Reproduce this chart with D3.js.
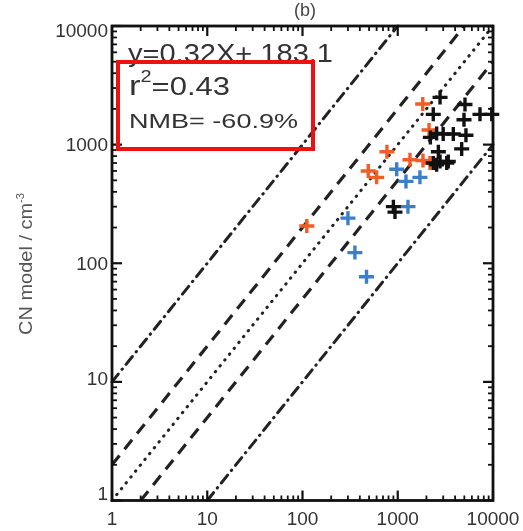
<!DOCTYPE html>
<html>
<head>
<meta charset="utf-8">
<script src="https://cdn.jsdelivr.net/npm/d3@7"></script>
<style>
  html, body { margin: 0; padding: 0; background: #fff; }
  svg { display: block; filter: blur(0.4px); }
  text { font-family: "Liberation Sans", Arial, sans-serif; }
</style>
</head>
<body>
<svg id="chart" width="523" height="531"></svg>
<script>
const orangeObs = [111, 770, 1830, 2130, 490, 600, 1345, 1840, 2180];
const orangeMod = [206, 870, 2200, 1330, 600, 530, 745, 735, 700];

const blueObs = [300, 355, 470, 975, 1220, 1710, 1280];
const blueMod = [240, 123, 77, 620, 490, 530, 300];

const blackObs = [2780, 5080, 2360, 7300, 9700, 4960, 2560, 3000, 3830, 5200, 2200,
                  4690, 2670, 2360, 3270, 2780, 2560, 3390, 900, 935];
const blackMod = [2500, 2180, 1800, 1800, 1800, 1620, 1240, 1230, 1230, 1200, 1150,
                  920, 870, 700, 700, 720, 675, 720, 300, 270];

// ratio lines model/obs
const ratios = [10, 2, 1, 0.5, 0.1];
const ratioStyle = ["dashdot", "dash", "dot", "dash", "dashdot"];

const tickValues = [1, 10, 100, 1000, 10000];
const tickLabels = ["1", "10", "100", "1000", "10000"];

const statLines = ["y=0.32X+ 183.1", "=0.43", "NMB= -60.9%"];

/***** setup *****/
const svg = d3.select("#chart");
const pLeft = 112, pRight = 493, pTop = 26, pBottom = 500.5;

const x = d3.scaleLog().domain([1, 1e4]).range([pLeft, pRight]);
const y = d3.scaleLog().domain([1, 1e4]).range([pBottom, pTop]);

let minor = [];
tickValues.slice(0, -1).forEach(d => {
  for (let k = 2; k <= 9; k++) minor.push(d * k);
});

/***** ratio lines *****/
const dashes = {
  dashdot: { dash: "10 6 0.5 6", cap: "round", w: 3 },
  dash: { dash: "12 8", cap: "butt", w: 3.2 },
  dot: { dash: "0.5 7", cap: "round", w: 3 }
};
const lineData = ratios.map((k, i) => ({
  k: k, style: ratioStyle[i],
  x1: Math.max(1, 1 / k), x2: Math.min(1e4, 1e4 / k)
}));
svg.append("g").attr("class", "ratios")
  .selectAll("line")
  .data(lineData)
  .join("line")
    .attr("x1", d => x(d.x1))
    .attr("y1", d => y(d.x1 * d.k))
    .attr("x2", d => x(d.x2))
    .attr("y2", d => y(d.x2 * d.k))
    .attr("stroke", "#222")
    .attr("stroke-width", d => dashes[d.style].w)
    .attr("stroke-dasharray", d => dashes[d.style].dash)
    .attr("stroke-linecap", d => dashes[d.style].cap);

/***** points *****/
const series = [
  { obs: orangeObs, mod: orangeMod, color: "#f05d26" },
  { obs: blueObs, mod: blueMod, color: "#3b7fcb" },
  { obs: blackObs, mod: blackMod, color: "#111" }
];
const plus = "M-7.5,0H7.5M0,-7V7";
series.forEach(s => {
  svg.append("g")
    .selectAll("path")
    .data(s.obs.map((o, i) => [o, s.mod[i]]))
    .join("path")
      .attr("d", plus)
      .attr("transform", d => `translate(${x(d[0])},${y(d[1])})`)
      .attr("stroke", s.color)
      .attr("stroke-width", 3.4)
      .attr("fill", "none");
});

/***** axes - ticks inward on all four sides *****/
const axisG = svg.append("g").attr("stroke", "#111");
function ticks(vals, len, w) {
  vals.forEach(v => {
    axisG.append("line").attr("x1", x(v)).attr("x2", x(v)).attr("y1", pBottom).attr("y2", pBottom - len).attr("stroke-width", w);
    axisG.append("line").attr("x1", x(v)).attr("x2", x(v)).attr("y1", pTop).attr("y2", pTop + len).attr("stroke-width", w);
    axisG.append("line").attr("y1", y(v)).attr("y2", y(v)).attr("x1", pLeft).attr("x2", pLeft + len).attr("stroke-width", w);
    axisG.append("line").attr("y1", y(v)).attr("y2", y(v)).attr("x1", pRight).attr("x2", pRight - len).attr("stroke-width", w);
  });
}
ticks(minor, 5, 1.8);
ticks(tickValues, 10, 2.2);

svg.append("rect")
  .attr("x", pLeft).attr("y", pTop)
  .attr("width", pRight - pLeft).attr("height", pBottom - pTop)
  .attr("fill", "none").attr("stroke", "#111").attr("stroke-width", 2.8);

// tick labels
svg.append("g").selectAll("text")
  .data(tickValues)
  .join("text")
    .attr("x", d => x(d))
    .attr("y", 525)
    .attr("text-anchor", "middle")
    .attr("font-size", 19)
    .attr("fill", "#333")
    .text((d, i) => tickLabels[i]);

svg.append("g").selectAll("text")
  .data(tickValues)
  .join("text")
    .attr("x", pLeft - 4)
    .attr("y", d => y(d) + (d === 1e4 ? 4 : d === 1 ? -7 : d === 10 ? -4 : 0))
    .attr("dy", "0.36em")
    .attr("text-anchor", "end")
    .attr("font-size", 19)
    .attr("fill", "#333")
    .text((d, i) => tickLabels[i]);

// y axis title
const yt = svg.append("text")
  .attr("transform", "translate(32,264) rotate(-90)")
  .attr("text-anchor", "middle")
  .attr("font-size", 18)
  .attr("fill", "#555")
  .attr("textLength", 142)
  .attr("lengthAdjust", "spacingAndGlyphs");
yt.append("tspan").text("CN model / cm");
yt.append("tspan").attr("font-size", 10).attr("dy", -8).text("-3");

// panel title (cut off at the top in the original)
svg.append("text")
  .attr("x", 305).attr("y", 16)
  .attr("text-anchor", "middle")
  .attr("font-size", 18)
  .attr("fill", "#444")
  .text("(b)");

/***** stats *****/
svg.append("text")
  .attr("x", 128).attr("y", 62)
  .attr("font-size", 26)
  .attr("fill", "#333")
  .attr("textLength", 205)
  .attr("lengthAdjust", "spacingAndGlyphs")
  .text(statLines[0]);

const r2 = svg.append("text")
  .attr("x", 129).attr("y", 95)
  .attr("font-size", 25)
  .attr("fill", "#333")
  .attr("textLength", 101)
  .attr("lengthAdjust", "spacingAndGlyphs");
r2.append("tspan").attr("font-size", 28).text("r");
r2.append("tspan").attr("font-size", 16).attr("dy", -13).text("2");
r2.append("tspan").attr("dy", 13).text(statLines[1]);

svg.append("text")
  .attr("x", 129).attr("y", 128)
  .attr("font-size", 21)
  .attr("fill", "#333")
  .attr("textLength", 169)
  .attr("lengthAdjust", "spacingAndGlyphs")
  .text(statLines[2]);

svg.append("rect")
  .attr("x", 118).attr("y", 62)
  .attr("width", 195).attr("height", 87)
  .attr("fill", "none")
  .attr("stroke", "#ee1111")
  .attr("stroke-width", 4);
</script>
</body>
</html>
